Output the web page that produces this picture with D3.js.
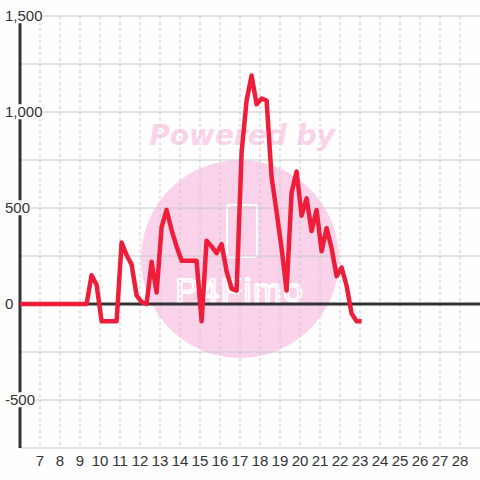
<!DOCTYPE html>
<html>
<head>
<meta charset="utf-8">
<script src="https://cdn.jsdelivr.net/npm/d3@7"></script>
<style>
  body { margin: 0; background: #fdfefd; }
  text { font-family: "Liberation Sans", Arial, sans-serif; }
</style>
</head>
<body>
<script>
// data (hour of day -> value)
var hours = [6, 9.33, 9.58, 9.83, 10.08, 10.33, 10.58, 10.83, 11.08, 11.33, 11.58, 11.83,
  12.08, 12.33, 12.58, 12.83, 13.08, 13.33, 13.58, 13.83, 14.08, 14.33, 14.58, 14.83,
  15.08, 15.33, 15.58, 15.83, 16.08, 16.33, 16.58, 16.83, 17.08, 17.33, 17.58, 17.83,
  18.08, 18.33, 18.58, 18.83, 19.08, 19.33, 19.58, 19.83, 20.08, 20.33, 20.58, 20.83,
  21.08, 21.33, 21.58, 21.83, 22.08, 22.33, 22.58, 22.83, 23.08];
var values = [0, 0, 150, 100, -90, -90, -90, -90, 320, 255, 205, 45,
  10, 0, 220, 60, 400, 490, 385, 300, 225, 225, 225, 225,
  -90, 330, 300, 265, 312, 170, 80, 70, 790, 1060, 1190, 1040,
  1070, 1060, 660, 480, 290, 70, 580, 690, 460, 550, 380, 490,
  275, 395, 290, 145, 190, 95, -50, -90, -90];
var xTicks = [7, 8, 9, 10, 11, 12, 13, 14, 15, 16, 17, 18, 19, 20, 21, 22, 23, 24, 25, 26, 27, 28];
var yGrid = [-750, -500, -250, 250, 500, 750, 1000, 1250, 1500];
var yLabels = [-500, 0, 500, 1000, 1500];

var width = 480, height = 480;

var svg = d3.select("body")
  .append("svg")
    .attr("width", width)
    .attr("height", height);

svg.append("rect")
  .attr("width", width).attr("height", height)
  .attr("fill", "#fdfefd");

var x = d3.scaleLinear().domain([6, 29]).range([20, 480]);
var y = d3.scaleLinear().domain([-750, 1500]).range([448, 16]);

// watermark
var wm = svg.append("g");
wm.append("circle")
  .attr("cx", 240).attr("cy", 259).attr("r", 99)
  .attr("fill", "#fad3ea");
wm.append("text")
  .attr("x", 242).attr("y", 145)
  .attr("text-anchor", "middle")
  .style("font-family", "'DejaVu Sans', sans-serif")
  .style("font-weight", "bold")
  .style("font-style", "italic")
  .style("font-size", "28px")
  .attr("fill", "#fad3ea")
  .text("Powered by");
wm.append("rect")
  .attr("x", 227).attr("y", 205).attr("width", 30).attr("height", 52).attr("rx", 3)
  .attr("fill", "none").attr("stroke", "#fff").attr("stroke-width", 2);
wm.append("text")
  .attr("x", 240).attr("y", 302)
  .attr("text-anchor", "middle")
  .style("font-size", "34px")
  .style("letter-spacing", "2px")
  .attr("fill", "none").attr("stroke", "#fff").attr("stroke-width", 2)
  .text("P4Fimo");

// grid
svg.append("g")
  .selectAll("line")
  .data(xTicks)
  .enter()
  .append("line")
    .attr("x1", function(d) { return x(d); })
    .attr("x2", function(d) { return x(d); })
    .attr("y1", y(1500))
    .attr("y2", y(-750))
    .attr("stroke", "#c8c8c8")
    .attr("stroke-dasharray", "3,3");

svg.append("g")
  .selectAll("line")
  .data(yGrid)
  .enter()
  .append("line")
    .attr("x1", x(6))
    .attr("x2", width)
    .attr("y1", function(d) { return y(d); })
    .attr("y2", function(d) { return y(d); })
    .attr("stroke", "#c8c8c8");

// zero line and left axis
svg.append("line")
  .attr("x1", x(6)).attr("x2", width)
  .attr("y1", y(0)).attr("y2", y(0))
  .attr("stroke", "#333").attr("stroke-width", 3);
svg.append("line")
  .attr("x1", x(6)).attr("x2", x(6))
  .attr("y1", y(1500)).attr("y2", y(-750))
  .attr("stroke", "#333").attr("stroke-width", 3);

// data line
var line = d3.line()
  .x(function(d, i) { return x(hours[i]); })
  .y(function(d) { return y(d); });

svg.append("path")
  .datum(values)
  .attr("fill", "none")
  .attr("stroke", "#ee1d3a")
  .attr("stroke-width", 4.5)
  .attr("stroke-linejoin", "round")
  .attr("d", line);

// y labels with background
var fmt = d3.format(",");
var yl = svg.append("g")
  .selectAll("g")
  .data(yLabels)
  .enter()
  .append("g")
    .attr("transform", function(d) { return "translate(5," + y(d) + ")"; });
yl.append("text")
  .attr("dy", "0.35em")
  .style("font-size", "15px")
  .attr("fill", "#333")
  .text(function(d) { return fmt(d).replace("\u2212", "-"); })
  .each(function() {
    var b = this.getBBox();
    d3.select(this.parentNode).insert("rect", "text")
      .attr("x", b.x - 1).attr("y", b.y + 1)
      .attr("width", b.width + 2).attr("height", b.height - 2)
      .attr("fill", "#fdfefd");
  });

// x labels
svg.append("g")
  .selectAll("text")
  .data(xTicks)
  .enter()
  .append("text")
    .attr("x", function(d) { return x(d); })
    .attr("y", 466)
    .attr("text-anchor", "middle")
    .style("font-size", "15px")
    .attr("fill", "#333")
    .text(function(d) { return d; });
</script>
</body>
</html>
